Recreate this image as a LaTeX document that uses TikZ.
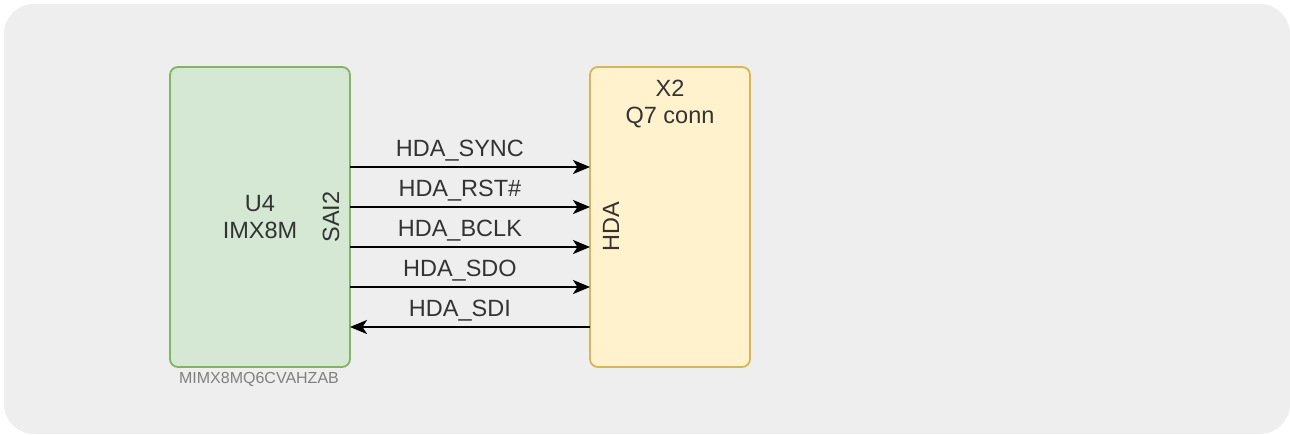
\documentclass[tikz,border=0pt]{standalone}
\usepackage{fontspec}
\setmainfont{Liberation Sans}
\usetikzlibrary{arrows.meta}
\definecolor{bggray}{HTML}{EEEEEE}
\definecolor{cpufill}{HTML}{D5E8D4}
\definecolor{cpuline}{HTML}{82B366}
\definecolor{connfill}{HTML}{FFF2CC}
\definecolor{connline}{HTML}{D6B656}
\definecolor{txt}{HTML}{333333}
\tikzset{
  blk/.style={draw, line width=1.8pt, rounded corners=8pt, minimum width=180pt, minimum height=300pt, inner sep=0pt},
  sig/.style={line width=2pt, -{Stealth[length=17pt, width=14pt, inset=4.5pt]}},
  sigtext/.style={text=txt, anchor=base, inner sep=0pt, yshift=11pt, font=\fontsize{23.5}{28}\selectfont}
}
\begin{document}
\begin{tikzpicture}[x=1pt, y=-1pt]
\useasboundingbox (0,0) rectangle (1290,434);
\fill[white] (0,0) rectangle (1290,434);
\fill[bggray, rounded corners=30pt] (4,4) rectangle (1290,434);
% blocks
\node[blk, fill=cpufill, draw=cpuline, text=txt, align=center, font=\fontsize{23.5}{27}\selectfont] (u4) at (260,217){U4\\IMX8M};
\node[blk, fill=connfill, draw=connline, minimum width=160pt] (x2) at (670,217){};
\node[text=txt, align=center, font=\fontsize{23.5}{27}\selectfont] (x2name) at (670,104){X2\\Q7 conn};
\node[text=txt, rotate=90, font=\fontsize{23.5}{27}\selectfont] (sai) at (331,217){SAI2};
\node[text=txt, rotate=90, font=\fontsize{23.5}{27}\selectfont] (hda) at (611,227){HDA};
\node[text=black!50, anchor=base, font=\fontsize{16}{18}\selectfont] (pn) at (259,383){MIMX8MQ6CVAHZAB};
% port points
\coordinate (p1) at (350,167);
\coordinate (q1) at (590,167);
\coordinate (p2) at (350,207);
\coordinate (q2) at (590,207);
\coordinate (p3) at (350,247);
\coordinate (q3) at (590,247);
\coordinate (p4) at (350,287);
\coordinate (q4) at (590,287);
\coordinate (p5) at (350,327);
\coordinate (q5) at (590,327);
% signals
\draw[sig](p1) -- (q1) node[sigtext, pos=.458]{HDA\_SYNC};
\draw[sig](p2) -- (q2) node[sigtext, pos=.458]{HDA\_RST\#};
\draw[sig](p3) -- (q3) node[sigtext, pos=.458]{HDA\_BCLK};
\draw[sig](p4) -- (q4) node[sigtext, pos=.458]{HDA\_SDO};
\draw[sig](q5) -- (p5) node[sigtext, pos=.542]{HDA\_SDI};
\end{tikzpicture}
\end{document}
